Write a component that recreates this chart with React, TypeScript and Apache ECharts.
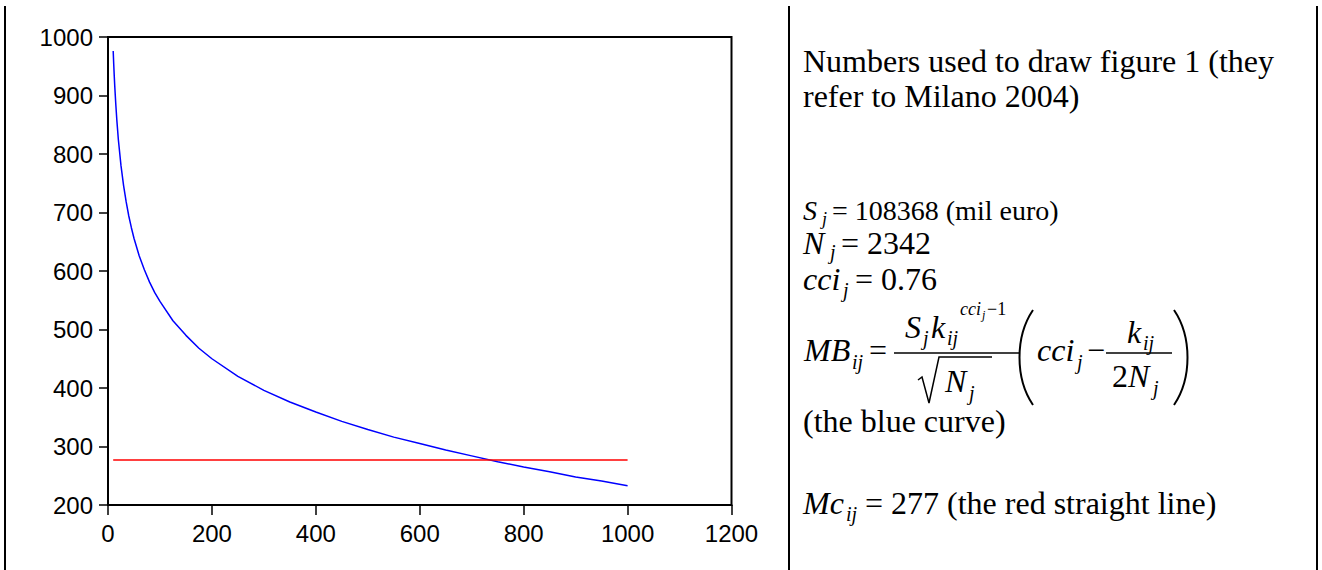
import React, { useEffect, useRef } from "react";
import * as echarts from "echarts";

// Blue curve: marginal benefit MB_ij read at k values
const blueK = [10, 11, 12, 13, 15, 17, 20, 25, 30, 35, 40, 45, 50, 60, 70, 80, 90, 100, 125, 150, 175, 200, 250, 300, 350, 400, 450, 500, 550, 600, 650, 700, 750, 800, 850, 900, 950, 1000];
const blueMB = [976, 954, 934, 916, 885, 858, 824, 780, 746, 718, 694, 674, 656, 626, 602, 581, 563, 548, 515, 490, 468, 450, 420, 396, 376, 359, 343, 329, 316, 305, 294, 284, 274, 265, 257, 248, 241, 233];
// Red line: marginal cost
const redK = [10, 1000];
const redMc = [277, 277];

const xTicks = { min: 0, max: 1200, interval: 200 };
const yTicks = { min: 200, max: 1000, interval: 100 };

const serif = '"Liberation Serif", "Times New Roman", serif';
const sans = '"Liberation Sans", Arial, sans-serif';

function txt(x: number, baseline: number, text: string, size: number, italic = false) {
  return {
    type: "text",
    x,
    y: baseline - 0.34 * size,
    style: {
      text,
      fontSize: size,
      fontFamily: serif,
      fontStyle: italic ? "italic" : "normal",
      fill: "#000",
      align: "left",
      verticalAlign: "middle",
    },
  };
}

function line(x1: number, y1: number, x2: number, y2: number, w: number) {
  return { type: "line", shape: { x1, y1, x2, y2 }, style: { stroke: "#000", lineWidth: w } };
}

function paren(x1: number, y1: number, cx: number, x2: number, y2: number) {
  const h = y2 - y1;
  return {
    type: "bezierCurve",
    shape: { x1, y1, cpx1: cx, cpy1: y1 + h * 0.28, cpx2: cx, cpy2: y1 + h * 0.72, x2, y2 },
    style: { stroke: "#000", lineWidth: 2, fill: "none" },
  };
}

export default function App() {
  const ref = useRef<HTMLDivElement>(null);
  useEffect(() => {
    if (!ref.current) return;
    const chart = echarts.init(ref.current, null, { renderer: "svg" });
    const F = 32;
    const S = 20;
    const elements: any[] = [
      // table borders
      line(5, 6, 5, 570, 2),
      line(789, 6, 789, 570, 2),
      line(1317, 6, 1317, 570, 2),
      // prose
      txt(803, 72, "Numbers used to draw figure 1 (they", F),
      txt(803, 107, "refer to Milano 2004)", F),
      // S_j
      txt(803, 220, "S", 28, true),
      txt(822, 225, "j", 18, true),
      txt(832, 220, "= 108368 (mil euro)", 28),
      // N_j
      txt(803, 254, "N", F, true),
      txt(830, 259, "j", S, true),
      txt(841, 254, "= 2342", F),
      // cci_j
      txt(803, 290, "cci", F, true),
      txt(843, 297, "j", S, true),
      txt(855, 290, "= 0.76", F),
      // MB formula
      txt(804, 361, "MB", F, true),
      txt(852, 369, "ij", S, true),
      txt(869, 361, "=", F),
      line(894, 353, 1019, 353, 1.5),
      txt(905, 338, "S", F, true),
      txt(923, 345, "j", S, true),
      txt(931, 338, "k", F, true),
      txt(947, 345, "ij", S, true),
      txt(960, 315, "cci", 18, true),
      txt(982, 319, "j", 12, true),
      txt(987, 315, "\u22121", 18),
      { type: "polyline", shape: { points: [[918, 380], [922, 377], [929, 403], [939, 357], [992, 357]] }, style: { stroke: "#000", lineWidth: 1.5, fill: "none" } },
      txt(945, 392, "N", F, true),
      txt(969, 400, "j", S, true),
      paren(1033, 310, 1015, 1033, 405),
      txt(1037, 361, "cci", F, true),
      txt(1077, 369, "j", S, true),
      txt(1087, 361, "\u2212", F),
      line(1106, 353, 1172, 353, 1.5),
      txt(1127, 343, "k", F, true),
      txt(1143, 350, "ij", S, true),
      txt(1112, 387, "2", F),
      txt(1128, 387, "N", F, true),
      txt(1153, 395, "j", S, true),
      paren(1174, 310, 1192, 1174, 405),
      // captions
      txt(803, 432, "(the blue curve)", F),
      txt(803, 514, "Mc", F, true),
      txt(846, 521, "ij", S, true),
      txt(865, 514, "= 277 (the red straight line)", F),
    ];

    chart.setOption({
      animation: false,
      backgroundColor: "#fff",
      grid: {
        left: 108,
        top: 37,
        width: 623.5,
        height: 468,
        show: true,
        borderColor: "#000",
        borderWidth: 2,
        backgroundColor: "transparent",
      },
      xAxis: {
        type: "value",
        min: xTicks.min,
        max: xTicks.max,
        interval: xTicks.interval,
        axisLine: { show: true, onZero: false, lineStyle: { color: "#000", width: 2 } },
        axisTick: { show: true, inside: false, length: 10, lineStyle: { color: "#000", width: 1.5 } },
        axisLabel: { color: "#000", fontSize: 24, fontFamily: sans, margin: 16, formatter: (v: number) => String(v) },
        splitLine: { show: false },
      },
      yAxis: {
        type: "value",
        min: yTicks.min,
        max: yTicks.max,
        interval: yTicks.interval,
        axisLine: { show: true, onZero: false, lineStyle: { color: "#000", width: 2 } },
        axisTick: { show: true, inside: false, length: 9, lineStyle: { color: "#000", width: 1.5 } },
        axisLabel: { color: "#000", fontSize: 24, fontFamily: sans, margin: 15, formatter: (v: number) => String(v) },
        splitLine: { show: false },
      },
      series: [
        {
          type: "line",
          data: blueK.map((k, i) => [k, blueMB[i]]),
          showSymbol: false,
          smooth: false,
          lineStyle: { color: "#0000ff", width: 1.5 },
          silent: true,
        },
        {
          type: "line",
          data: redK.map((k, i) => [k, redMc[i]]),
          showSymbol: false,
          lineStyle: { color: "#ff0000", width: 1.5 },
          silent: true,
        },
      ],
      graphic: { elements },
    });
    return () => chart.dispose();
  }, []);
  return <div ref={ref} style={{ position: "fixed", left: 0, top: 0, width: 1322, height: 570 }} />;
}
